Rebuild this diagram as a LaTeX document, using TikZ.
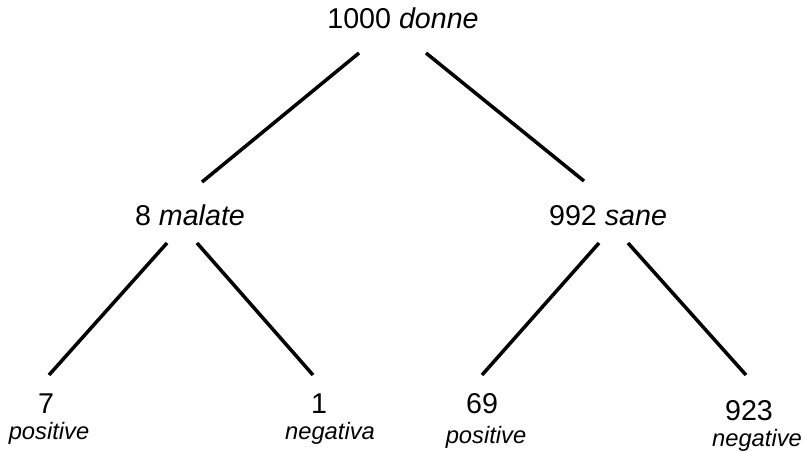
\documentclass[tikz,border=0pt]{standalone}
\usepackage{fontspec}
\setmainfont{Liberation Sans}
\usepackage{tikz}
\tikzset{%
	count/.style={
		anchor=base,
		inner sep=0pt,
		font=\fontsize{16.3}{19}\selectfont
	},
	outcome/.style={
		anchor=base,
		inner sep=0pt,
		font=\fontsize{13.5}{16}\selectfont\itshape
	},
	branch/.style={
		line width=2pt
	},
}
\begin{document}
\begin{tikzpicture}
				\useasboundingbox (0,0) rectangle (16.14,-9.02);
				% Root
				\node[count] (Root) at (8.06,-0.56) {1000 \textit{donne}};
				% Middle level
				\node[count] (Sick) at (3.80,-4.50) {8 \textit{malate}};
				\node[count] (Healthy) at (12.16,-4.50) {992 \textit{sane}};
				% Leaves
				\foreach \i/\x/\y/\n/\sx/\sy/\s in {1/0.92/-8.26/7/0.98/-8.78/positive,
					2/6.38/-8.26/1/6.60/-8.78/negativa,
					3/9.64/-8.26/69/9.72/-8.86/positive,
					4/14.98/-8.40/923/15.14/-8.92/negative}
				{
					\node[count] (Leaf-\i) at (\x,\y) {\n};
					\node[outcome] (Test-\i) at (\sx,\sy) {\s};
				}
				% Root to middle
				\draw[branch] ([shift={(-0.88,-0.50)}]Root.base) -- ([shift={(0.24,0.86)}]Sick.base);
				\draw[branch] ([shift={(0.46,-0.50)}]Root.base) -- ([shift={(-0.48,0.88)}]Healthy.base);
				% Middle to leaves
				\draw[branch] ([shift={(-0.46,-0.36)}]Sick.base) -- ([shift={(0.06,0.76)}]Leaf-1.base);
				\draw[branch] ([shift={(0.14,-0.36)}]Sick.base) -- ([shift={(-0.12,0.76)}]Leaf-2.base);
				\draw[branch] ([shift={(-0.18,-0.36)}]Healthy.base) -- ([shift={(0,0.76)}]Leaf-3.base);
				\draw[branch] ([shift={(0.40,-0.36)}]Healthy.base) -- ([shift={(-0.06,0.90)}]Leaf-4.base);
			\end{tikzpicture}
\end{document}
